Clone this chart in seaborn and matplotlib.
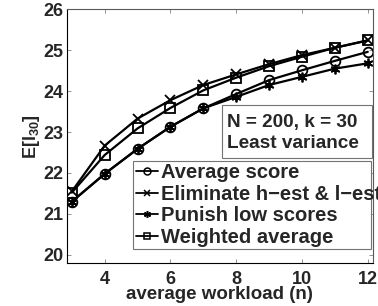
import numpy as np
import pandas as pd
import seaborn as sns
import matplotlib.pyplot as plt
from matplotlib.lines import Line2D
from matplotlib.patches import Rectangle

workload = [3, 4, 5, 6, 7, 8, 9, 10, 11, 12]
average_score = [21.30, 21.98, 22.59, 23.13, 23.58, 23.93, 24.27, 24.51, 24.74, 24.96]
eliminate = [21.55, 22.67, 23.33, 23.78, 24.15, 24.41, 24.66, 24.88, 25.06, 25.24]
punish_low = [21.30, 21.98, 22.59, 23.13, 23.58, 23.86, 24.15, 24.35, 24.55, 24.68]
weighted = [21.52, 22.44, 23.09, 23.59, 24.02, 24.33, 24.61, 24.84, 25.06, 25.24]
methods = ["Average score", "Eliminate h\u2212est & l\u2212est", "Punish low scores", "Weighted average"]
series = [average_score, eliminate, punish_low, weighted]
xticks = [4, 6, 8, 10, 12]
yticks = [20, 21, 22, 23, 24, 25, 26]

sns.set_style("ticks")
plt.rcParams["font.family"] = ["Liberation Sans", "DejaVu Sans"]
plt.rcParams["font.weight"] = "bold"
plt.rcParams["font.size"] = 13
plt.rcParams["legend.fontsize"] = 14.5
plt.rcParams["xtick.labelsize"] = 13
plt.rcParams["ytick.labelsize"] = 13
plt.rcParams["xtick.major.pad"] = 6
plt.rcParams["ytick.major.pad"] = 2.5
plt.rcParams["mathtext.fontset"] = "custom"
plt.rcParams["mathtext.bf"] = "Liberation Sans:bold"
plt.rcParams["mathtext.rm"] = "Liberation Sans:bold"
plt.rcParams["mathtext.default"] = "bf"

fig = plt.figure(figsize=(3.78, 3.06), dpi=100)
ax = fig.add_axes([0.177, 0.1405, 0.809, 0.8291])

mk = {methods[0]: "o", methods[1]: "x", methods[2]: (6, 2, 0), methods[3]: "s"}
for m, vals in zip(methods, series):
    d = pd.DataFrame({"n": workload, "val": vals})
    sns.lineplot(data=d, x="n", y="val", ax=ax, color="black", marker=mk[m],
                 linewidth=1.6, markersize=7, markeredgewidth=1.3,
                 markerfacecolor="none", markeredgecolor="black")

ax.set_xlim(2.85, 12.15)
ax.set_ylim(19.8, 26)
ax.set_xticks(xticks)
ax.set_yticks(yticks)
ax.tick_params(direction="in", top=True, right=True, length=3, width=0.6, color="0.5")
for s in ax.spines.values():
    s.set_linewidth(0.8)
    s.set_color("0.35")
ax.spines["left"].set_color("black")
ax.spines["bottom"].set_color("black")

ax.set_xlabel("average workload (n)", fontsize=13.5, fontweight="bold", labelpad=-2)
ax.set_ylabel("E[l$_{30}$]", fontsize=13, fontweight="bold", labelpad=1)

# annotation box
ax.add_patch(Rectangle((0.508, 0.415), 0.489, 0.208, transform=ax.transAxes,
                       fc="white", ec="0.45", lw=0.8, zorder=4))
ax.text(0.522, 0.537, "N = 200, k = 30", transform=ax.transAxes, fontsize=13.7,
        fontweight="bold", va="baseline", ha="left", zorder=5)
ax.text(0.522, 0.452, "Least variance", transform=ax.transAxes, fontsize=13.7,
        fontweight="bold", va="baseline", ha="left", zorder=5)

handles = [Line2D([], [], color="black", lw=1.3, marker=mk[m], markersize=5,
                  markeredgewidth=1.1, markerfacecolor="none") for m in methods]
leg = ax.legend(handles, methods, loc="upper left",
                bbox_to_anchor=(0.217, 0.016, 0.7765, 0.386), mode="expand",
                borderaxespad=0, frameon=True, fancybox=False, framealpha=1,
                handlelength=1.1, handletextpad=0.17, labelspacing=0.12,
                borderpad=0.12, fontsize=14.5)
leg.get_frame().set_edgecolor("0.45")
leg.get_frame().set_linewidth(0.8)
leg.set_zorder(6)

fig.savefig("out.png", dpi=100)
